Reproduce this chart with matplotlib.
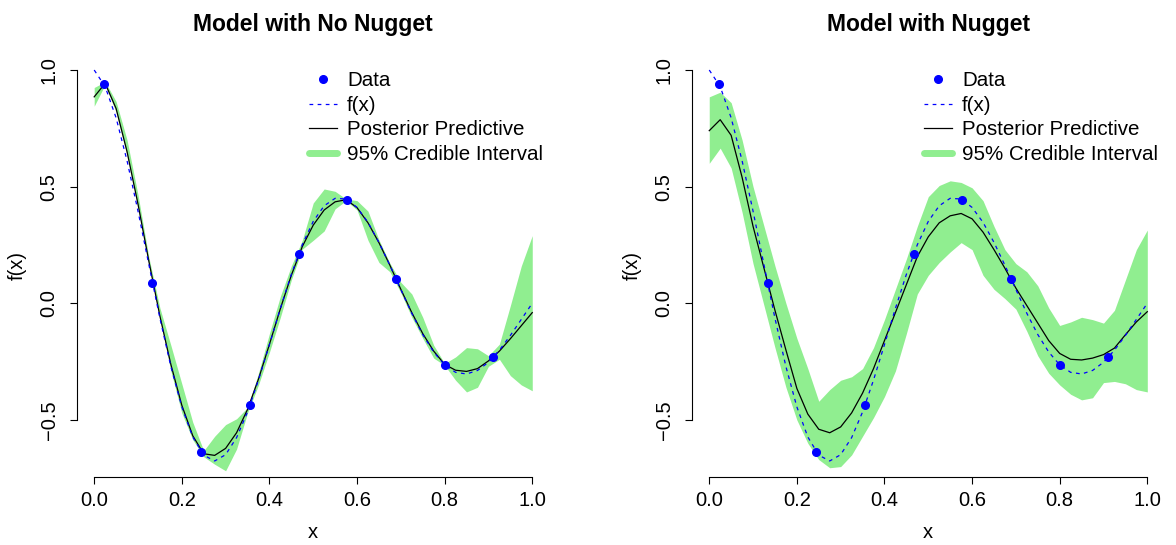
import matplotlib
matplotlib.use("Agg")
import matplotlib.pyplot as plt
from matplotlib.lines import Line2D

plt.rcParams["font.family"] = ["Liberation Sans", "DejaVu Sans"]

# prediction grid
xx = [0.000, 0.025, 0.050, 0.075, 0.100, 0.125, 0.150, 0.175, 0.200, 0.225,
      0.250, 0.275, 0.300, 0.325, 0.350, 0.375, 0.400, 0.425, 0.450, 0.475,
      0.500, 0.525, 0.550, 0.575, 0.600, 0.625, 0.650, 0.675, 0.700, 0.725,
      0.750, 0.775, 0.800, 0.825, 0.850, 0.875, 0.900, 0.925, 0.950, 0.975, 1.000]

# true function
f_true = [1.000, 0.929, 0.795, 0.611, 0.395, 0.164, -0.064, -0.271, -0.444, -0.573,
          -0.651, -0.676, -0.649, -0.576, -0.466, -0.329, -0.177, -0.022, 0.124, 0.251,
          0.351, 0.418, 0.450, 0.447, 0.411, 0.347, 0.261, 0.163, 0.059, -0.043,
          -0.134, -0.209, -0.264, -0.296, -0.303, -0.288, -0.253, -0.201, -0.138, -0.069, 0.000]

# observed data
x_obs = [0.022, 0.133, 0.244, 0.356, 0.467, 0.578, 0.689, 0.800, 0.911]
y_obs = [0.941, 0.087, -0.638, -0.435, 0.212, 0.443, 0.105, -0.264, -0.232]

# model without nugget
mean_nn = [0.885, 0.943, 0.835, 0.650, 0.425, 0.178, -0.055, -0.262, -0.437, -0.568,
           -0.645, -0.652, -0.622, -0.555, -0.455, -0.325, -0.176, -0.023, 0.120, 0.243,
           0.335, 0.400, 0.435, 0.444, 0.410, 0.345, 0.260, 0.163, 0.060, -0.040,
           -0.130, -0.205, -0.262, -0.287, -0.292, -0.280, -0.247, -0.205, -0.152, -0.096, -0.040]
upper_nn = [0.925, 0.950, 0.865, 0.700, 0.465, 0.195, -0.020, -0.180, -0.345, -0.510,
            -0.632, -0.570, -0.520, -0.495, -0.447, -0.300, -0.130, 0.030, 0.160, 0.270,
            0.430, 0.490, 0.480, 0.447, 0.440, 0.395, 0.272, 0.172, 0.090, 0.040,
            -0.060, -0.180, -0.258, -0.230, -0.190, -0.195, -0.225, -0.175, -0.010, 0.160, 0.290]
lower_nn = [0.845, 0.938, 0.820, 0.635, 0.410, 0.165, -0.065, -0.290, -0.470, -0.585,
            -0.658, -0.690, -0.718, -0.625, -0.470, -0.350, -0.210, -0.060, 0.100, 0.232,
            0.270, 0.310, 0.405, 0.440, 0.400, 0.270, 0.175, 0.135, 0.045, -0.060,
            -0.150, -0.235, -0.266, -0.330, -0.380, -0.360, -0.270, -0.240, -0.310, -0.350, -0.375]

# model with nugget
mean_ng = [0.740, 0.787, 0.720, 0.540, 0.330, 0.150, -0.030, -0.200, -0.365, -0.475,
           -0.540, -0.555, -0.530, -0.470, -0.385, -0.280, -0.160, -0.040, 0.080, 0.200,
           0.285, 0.345, 0.375, 0.385, 0.362, 0.305, 0.230, 0.150, 0.065, -0.010,
           -0.085, -0.160, -0.215, -0.240, -0.243, -0.235, -0.220, -0.192, -0.135, -0.080, -0.036]
upper_ng = [0.885, 0.905, 0.860, 0.700, 0.500, 0.330, 0.160, 0.000, -0.150, -0.280,
            -0.420, -0.370, -0.330, -0.315, -0.280, -0.190, -0.070, 0.060, 0.190, 0.330,
            0.457, 0.505, 0.525, 0.518, 0.495, 0.440, 0.330, 0.230, 0.170, 0.135,
            0.075, -0.020, -0.095, -0.080, -0.060, -0.070, -0.085, -0.030, 0.100, 0.230, 0.314]
lower_ng = [0.600, 0.665, 0.580, 0.390, 0.170, -0.010, -0.190, -0.360, -0.500, -0.600,
            -0.670, -0.705, -0.700, -0.650, -0.570, -0.490, -0.400, -0.290, -0.130, 0.040,
            0.120, 0.175, 0.220, 0.260, 0.230, 0.120, 0.060, 0.020, -0.025, -0.120,
            -0.225, -0.300, -0.350, -0.390, -0.414, -0.405, -0.340, -0.335, -0.345, -0.370, -0.380]

fig = plt.figure(figsize=(11.76, 5.45), dpi=100)
ax1 = fig.add_axes([0.0652, 0.1242, 0.4023, 0.776])
ax2 = fig.add_axes([0.5882, 0.1242, 0.4023, 0.776])

panels = [(ax1, "Model with No Nugget", mean_nn, upper_nn, lower_nn),
          (ax2, "Model with Nugget", mean_ng, upper_ng, lower_ng)]

for ax, title, mu, up, lo in panels:
    ax.fill_between(xx, lo, up, color="lightgreen", linewidth=0)
    ax.plot(xx, mu, color="black", lw=0.9)
    ax.plot(xx, f_true, color="blue", lw=0.9, ls=(0, (3, 3.5)))
    ax.plot(x_obs, y_obs, "o", color="blue", ms=5.5, mec="blue")

    ax.set_xlim(-0.04, 1.04)
    ax.set_ylim(-0.746, 1.067)
    for s in ["top", "right"]:
        ax.spines[s].set_visible(False)
    ax.spines["left"].set_bounds(-0.5, 1.0)
    ax.spines["bottom"].set_bounds(0, 1)
    ax.set_xticks([0, 0.2, 0.4, 0.6, 0.8, 1.0])
    ax.set_xticklabels(["0.0", "0.2", "0.4", "0.6", "0.8", "1.0"])
    ax.set_yticks([-0.5, 0, 0.5, 1.0])
    ax.set_yticklabels(["\u22120.5", "0.0", "0.5", "1.0"], rotation=90, va="center")
    ax.tick_params(direction="out", length=5, width=0.8, labelsize=14.5)
    ax.tick_params(axis="x", pad=5)
    ax.tick_params(axis="y", pad=8)

    ax.set_title(title, fontsize=16.5, fontweight="bold", pad=17)
    ax.set_xlabel("x", fontsize=14.5, labelpad=9)
    ax.set_ylabel("f(x)", fontsize=14.5, labelpad=9)

    handles = [Line2D([], [], marker="o", ls="none", color="blue", ms=5.5),
               Line2D([], [], color="blue", lw=0.9, ls=(0, (3, 3.5))),
               Line2D([], [], color="black", lw=0.9),
               Line2D([], [], color="lightgreen", lw=5, solid_capstyle="round")]
    labels = ["Data", "f(x)", "Posterior Predictive", "95% Credible Interval"]
    ax.legend(handles, labels, loc="upper right", bbox_to_anchor=(1.012, 0.99),
              frameon=False, fontsize=14.8, handlelength=1.35, handletextpad=0.5,
              labelspacing=0.28, borderaxespad=0.2)

fig.savefig("out.png", dpi=100)
